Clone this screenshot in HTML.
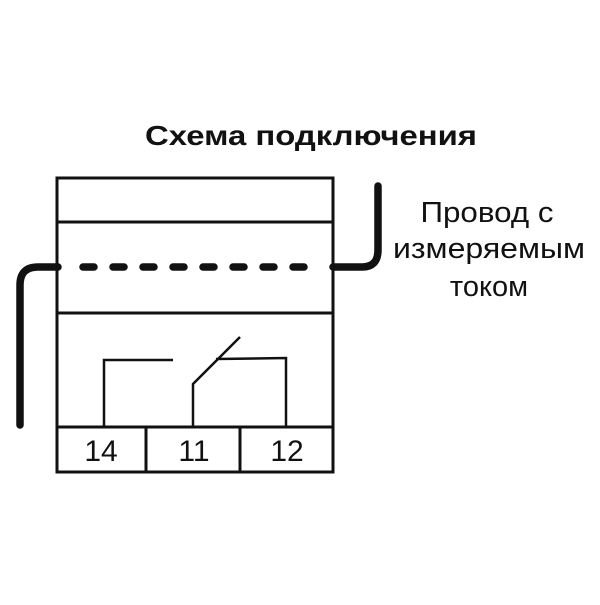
<!DOCTYPE html>
<html><head><meta charset="utf-8"><style>html,body{margin:0;padding:0;background:#fff}</style></head>
<body>
<svg width="600" height="600" xmlns="http://www.w3.org/2000/svg" font-family="Liberation Sans, Arial, sans-serif">
<rect width="600" height="600" fill="#fff"/>
<text x="311" y="145" font-size="28" font-weight="bold" text-anchor="middle" textLength="332" lengthAdjust="spacingAndGlyphs" fill="#111">Схема подключения</text>
<g font-size="29" fill="#111" text-anchor="middle">
<text x="487" y="222" textLength="133" lengthAdjust="spacingAndGlyphs">Провод с</text>
<text x="489" y="258" textLength="192" lengthAdjust="spacingAndGlyphs">измеряемым</text>
<text x="489" y="296">током</text>
</g>
<g stroke="#111" stroke-width="3" fill="none">
<rect x="57" y="178" width="276" height="294"/>
<line x1="57" y1="222" x2="333" y2="222"/>
<line x1="57" y1="313" x2="333" y2="313"/>
<line x1="57" y1="427" x2="333" y2="427"/>
<line x1="146" y1="427" x2="146" y2="472"/>
<line x1="240" y1="427" x2="240" y2="472"/>
</g>
<g stroke="#111" stroke-width="2.5" fill="none">
<polyline points="104,427 104,360 173,360"/>
<polyline points="193,427 193,384 240,337"/>
<polyline points="216,359 286,358 286,427"/>
</g>
<g stroke="#111" stroke-width="7.5" fill="none" stroke-linecap="round">
<path d="M20,425 V285 Q20,267 38,267 H58"/>
<path d="M333,267 H362 Q378,267 378,250 V186"/>
<line x1="83" y1="267" x2="320" y2="267" stroke-dasharray="11,19"/>
</g>
<g font-size="30" fill="#111" text-anchor="middle">
<text x="101" y="461">14</text>
<text x="194" y="461">11</text>
<text x="287" y="461">12</text>
</g>
</svg>
</body></html>
